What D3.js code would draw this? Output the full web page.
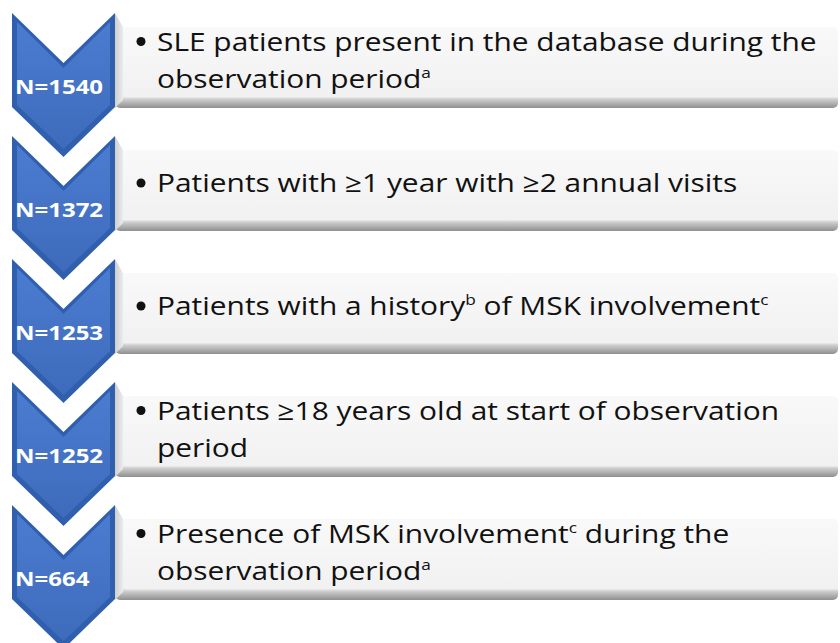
<!DOCTYPE html>
<html>
<head>
<meta charset="utf-8">
<script src="https://cdn.jsdelivr.net/npm/d3@7"></script>
<style>
  body { margin: 0; background: #fff; }
  svg { display: block; }
</style>
</head>
<body>
<div id="chart"></div>
<script>
// step counts, top to bottom
const counts = [1540, 1372, 1253, 1252, 664];

// box text, one array per line, each piece [text, superscript?]
const stepLines = [
  [[["SLE patients present in the database during the", false]],
   [["observation period", false], ["a", true]]],
  [[["Patients with ≥1 year with ≥2 annual visits", false]]],
  [[["Patients with a history", false], ["b", true], [" of MSK involvement", false], ["c", true]]],
  [[["Patients ≥18 years old at start of observation", false]],
   [["period", false]]],
  [[["Presence of MSK involvement", false], ["c", true], [" during the", false]],
   [["observation period", false], ["a", true]]]
];

const width = 840, height = 643;

const svg = d3.select("#chart")
  .append("svg")
  .attr("width", width)
  .attr("height", height);

const defs = svg.append("defs");

const boxGrad = defs.append("linearGradient")
  .attr("id", "boxGrad")
  .attr("x1", 0).attr("y1", 0).attr("x2", 0).attr("y2", 1);
boxGrad.append("stop").attr("offset", "0%").attr("stop-color", "#f9f9f9");
boxGrad.append("stop").attr("offset", "86%").attr("stop-color", "#f1f1f1");
boxGrad.append("stop").attr("offset", "89%").attr("stop-color", "#cfcfcf");
boxGrad.append("stop").attr("offset", "100%").attr("stop-color", "#8f8f8f");

const bevelGrad = defs.append("linearGradient")
  .attr("id", "bevelGrad")
  .attr("x1", 0).attr("y1", 0).attr("x2", 1).attr("y2", 0);
bevelGrad.append("stop").attr("offset", "0%").attr("stop-color", "#cfcfcf");
bevelGrad.append("stop").attr("offset", "100%").attr("stop-color", "#ececec");

const chevGrad = defs.append("linearGradient")
  .attr("id", "chevGrad")
  .attr("x1", 0).attr("y1", 0).attr("x2", 0).attr("y2", 1);
chevGrad.append("stop").attr("offset", "0%").attr("stop-color", "#4b7cd1");
chevGrad.append("stop").attr("offset", "100%").attr("stop-color", "#3e6bbb");

// vertical position of each step
const y = d3.scaleLinear()
  .domain([0, counts.length - 1])
  .range([13, 505]);

const chevX0 = 12, chevW = 103, notch = 50, side = 94;
const boxX0 = 115, boxX1 = 838;

const steps = svg.selectAll(".step")
  .data(counts)
  .join("g")
  .attr("class", "step")
  .attr("transform", (d, i) => `translate(0,${y(i)})`);

// boxes first, chevrons over them
steps.append("rect")
  .attr("x", boxX0)
  .attr("y", 14)
  .attr("width", boxX1 - boxX0)
  .attr("height", 81)
  .attr("rx", 5)
  .attr("fill", "url(#boxGrad)");

steps.append("path")
  .attr("d", `M${boxX0},0 L${boxX0 + 8},14 L${boxX0 + 8},87 L${boxX0},95 Z`)
  .attr("fill", "url(#bevelGrad)");

const chevPath = d3.line()([
  [chevX0, 0], [chevX0 + chevW / 2, notch], [chevX0 + chevW, 0],
  [chevX0 + chevW, side], [chevX0 + chevW / 2, side + notch], [chevX0, side]
]);

steps.append("path")
  .attr("d", chevPath + "Z")
  .attr("fill", "#3060ad");

const inset = 5;
const innerPath = d3.line()([
  [chevX0 + inset, inset + 4], [chevX0 + chevW / 2, notch + inset], [chevX0 + chevW - inset, inset + 4],
  [chevX0 + chevW - inset, side - 2], [chevX0 + chevW / 2, side + notch - inset - 3], [chevX0 + inset, side - 2]
]);

steps.append("path")
  .attr("d", innerPath + "Z")
  .attr("fill", "url(#chevGrad)");

// the source font is wider than anything installed, so stretch horizontally
const stretch = 1.15;

// N labels sit left aligned in the chevron
steps.append("text")
  .attr("transform", `translate(15,81) scale(1.2,1)`)
  .attr("font-family", "'Open Sans', sans-serif")
  .attr("font-weight", "bold")
  .attr("font-size", 20)
  .attr("fill", "#fff")
  .text(d => "N=" + d);

// box text
const lineGap = 37;
steps.each(function(d, i) {
  const g = d3.select(this);
  const lines = stepLines[i];
  const first = 56 - (lines.length - 1) * lineGap / 2;

  g.append("circle")
    .attr("cx", 141)
    .attr("cy", first - 9)
    .attr("r", 4.5)
    .attr("fill", "#111");

  lines.forEach((pieces, li) => {
    const t = g.append("text")
      .attr("transform", `translate(157,${first + li * lineGap}) scale(${stretch},1)`)
      .attr("font-family", "'Open Sans', sans-serif")
      .attr("font-size", 26)
      .attr("fill", "#111");
    pieces.forEach(([txt, sup], k) => {
      const s = t.append("tspan").text(txt);
      if (sup) s.attr("font-size", 15).attr("dy", -10);
      else if (k > 0) s.attr("dy", 10);
    });
  });
});
</script>
</body>
</html>
